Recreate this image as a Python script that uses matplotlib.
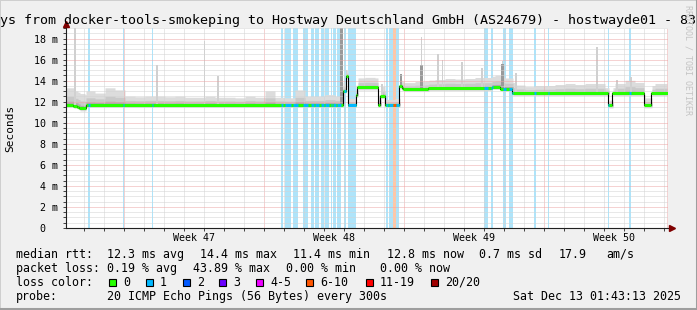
import numpy as np
import matplotlib.pyplot as plt
from matplotlib.patches import Rectangle
from matplotlib.lines import Line2D
from matplotlib.transforms import blended_transform_factory

plt.switch_backend('AGG')
plt.rcParams['font.family'] = ['DejaVu Sans Mono']

W, H, DPI = 697, 310, 100

# --- data -------------------------------------------------------------
# time in days since Monday of week 47
t_start, t_end = -2.9, 27.2
week_starts = [0, 7, 14, 21]
week_labels = ['Week 47', 'Week 48', 'Week 49', 'Week 50']

# median rtt (ms), step segments
median_edges = [-2.9, -2.535, -2.35, -2.25, -1.915, 10.925, 11.075, 11.175,
                11.585, 11.665, 12.675, 12.8, 13.025, 13.765, 13.885, 13.965,
                15.2, 18.385, 18.8, 19.4, 24.215, 24.4, 25.985, 26.35, 27.2]
median_ms = [11.72, 11.62, 11.50, 11.37, 11.72, 13.05, 14.40, 11.72,
             12.66, 13.36, 11.72, 12.57, 11.72, 13.46, 13.30, 13.21,
             13.30, 13.42, 13.25, 12.83, 11.65, 12.83, 11.66, 12.83]

# smoke spread above the median (ms), half-day bins from day -3.0
smoke_t0, smoke_step = -3.0, 0.5
smoke_spread = [1.6, 1.4, 1.3, 1.1, 1.6, 1.4, 0.8, 0.75, 0.8, 0.8,
                0.75, 0.8, 0.7, 0.7, 0.8, 0.7, 0.7, 0.65, 0.8, 0.7,
                1.3, 0.7, 0.65, 1.4, 0.8, 0.8, 0.95, 0.8, 0.6, 0.9,
                0.95, 0.9, 0.5, 0.6, 0.6, 0.7, 0.75, 0.8, 0.9, 0.85,
                0.9, 1.0, 1.0, 1.1, 1.0, 0.75, 0.6, 0.7, 0.7, 0.8,
                0.9, 0.8, 0.9, 0.9, 0.5, 0.9, 1.2, 1.0, 0.7, 0.9, 0.9]
smoke_below = 0.25

# single outlier pings (day, top ms)
light_spike_days = [-2.46, 1.64, 4.025, 4.715, 11.125, 12.885, 14.875, 15.715,
                    15.925, 16.91, 17.9, 18.925, 19.59, 23.65, 24.635, 25.35]
light_spike_tops = [19.5, 15.5, 17.8, 14.4, 15.0, 13.7, 18.1, 16.5,
                    16.0, 15.8, 15.2, 15.9, 14.7, 17.2, 14.1, 14.3]
dark_spike_days = [10.875, 13.84, 14.875, 18.925]
dark_spike_tops = [19.5, 14.6, 15.5, 15.6]

# packet loss periods (day start / end, loss class index)
loss_start = [-1.80, -0.05, 1.375, 7.85, 8.065, 8.45, 8.965, 9.35, 9.565, 9.85,
              10.035, 10.35, 10.465, 10.665, 11.015, 11.20, 13.085, 13.25,
              13.465, 13.60, 18.0, 18.335, 18.965, 19.25, 20.5, 21.2, 24.215, 25.265]
loss_end = [-1.725, 0.0, 1.465, 7.965, 8.365, 8.70, 9.185, 9.50, 9.735, 10.0,
            10.265, 10.415, 10.615, 10.85, 11.085, 11.585, 13.185, 13.465,
            13.60, 13.75, 18.2, 18.435, 19.085, 19.45, 20.6, 21.265, 24.265, 25.35]
loss_level = [1] * 18 + [5] + [1] * 9

loss_labels = ['0', '1', '2', '3', '4-5', '6-10', '11-19', '20/20']
loss_colors = ['#26ff00', '#00b8ff', '#0059ff', '#6a00ff',
               '#ee00ff', '#ff5500', '#ff0000', '#a00000']
loss_bg = {1: '#aee4fa', 5: '#ffc6a6'}

title = ('Last 30 Days from docker-tools-smokeping to Hostway Deutschland GmbH '
         '(AS24679) - hostwayde01 - 83.236.12.34')
stats_rtt = ['12.3 ms avg', '14.4 ms max', '11.4 ms min', '12.8 ms now',
             '0.7 ms sd', '17.9', 'am/s']
stats_loss = ['0.19 % avg', '43.89 % max', '0.00 % min', '0.00 % now']
probe_text = '20 ICMP Echo Pings (56 Bytes) every 300s'
stamp = 'Sat Dec 13 01:43:13 2025'


def fx(x):
    return x / W


def fy(y):
    return 1 - y / H


fig = plt.figure(figsize=(W / DPI, H / DPI), dpi=DPI, facecolor='#f0f0f0')
ax = fig.add_axes([fx(66), fy(228), (668 - 66) / W, 200 / H])
ax.set_facecolor('white')
ax.set_xlim(t_start, t_end)
ax.set_ylim(0, 19.0)

# loss background columns
for s, e, lv in zip(loss_start, loss_end, loss_level):
    ax.axvspan(s, e, color=loss_bg[lv], lw=0, zorder=0.2)

# smoke
t = np.arange(t_start, t_end, 0.05)
edges = np.asarray(median_edges)
med_arr = np.asarray(median_ms)


def med_at(x):
    i = np.clip(np.searchsorted(edges, x, side='right') - 1, 0, len(med_arr) - 1)
    return med_arr[i]


med = med_at(t)
bi = np.clip(((t - smoke_t0) // smoke_step).astype(int), 0, len(smoke_spread) - 1)
spread = np.asarray(smoke_spread)[bi]
for frac, col in [(1.0, '#dcdcdc'), (0.5, '#c9c9c9'), (0.2, '#acacac')]:
    ax.fill_between(t, med - smoke_below * frac, med + spread * frac,
                    step='post', color=col, lw=0, zorder=1)

ld = np.asarray(light_spike_days)
ax.bar(ld, np.asarray(light_spike_tops) - med_at(ld), bottom=med_at(ld),
       width=0.085, color='#d0d0d0', lw=0, zorder=1.1)
dd = np.asarray(dark_spike_days)
ax.bar(dd, np.asarray(dark_spike_tops) - med_at(dd), bottom=med_at(dd),
       width=0.11, color='#9a9a9a', lw=0, zorder=1.2)

# median line
ax.step(median_edges, median_ms + [median_ms[-1]], where='post',
        color='black', lw=0.8, zorder=3)
ax.hlines(median_ms, median_edges[:-1], median_edges[1:],
          color=loss_colors[0], lw=2.2, zorder=3.2)
for s, e, lv in zip(loss_start, loss_end, loss_level):
    for a, b, v in zip(median_edges[:-1], median_edges[1:], median_ms):
        lo, hi = max(a, s), min(b, e)
        if hi > lo:
            ax.hlines(v, lo, hi, color=loss_colors[lv], lw=2.2, zorder=3.3)

# grid
ax.set_axisbelow(False)
ax.set_xticks(week_starts)
ax.set_xticks(np.arange(-2, 28, 1), minor=True)
ax.set_xticklabels([])
ax.set_yticks(np.arange(0, 19, 2))
ax.set_yticks(np.arange(0, 19.01, 0.5), minor=True)
ax.set_yticklabels(['0  '] + ['%2d m' % v for v in range(2, 19, 2)])
ax.grid(which='major', color='#eca6a6', ls=(0, (1, 1)), lw=0.72)
ax.grid(which='minor', color='#d3d3d3', ls=(0, (1, 1)), lw=0.72)
ax.axvline(t_end - 0.04, color='#eca6a6', ls=(0, (1, 1)), lw=0.72, zorder=2.5)
ax.tick_params(which='both', length=2, width=0.7, color='#404040',
               labelsize=7.2, pad=3.5)

for sp in ['top', 'right']:
    ax.spines[sp].set_visible(False)
for sp in ['left', 'bottom']:
    ax.spines[sp].set_color('#202020')
    ax.spines[sp].set_linewidth(0.8)
    ax.spines[sp].set_zorder(4)

ax.plot([1.006], [0], marker='>', ms=4.2, color='#7f0000',
        transform=ax.transAxes, clip_on=False, zorder=5)
ax.plot([0], [1.02], marker='^', ms=4.2, color='#7f0000',
        transform=ax.transAxes, clip_on=False, zorder=5)

tr = blended_transform_factory(ax.transData, ax.transAxes)
for ws, lab in zip(week_starts, week_labels):
    ax.text(ws + 3.5, -0.065, lab, transform=tr, ha='center', va='baseline',
            fontsize=7.2)

# texts around the plot
fig.text(0.5, fy(24.3), title, ha='center', va='baseline', fontsize=9.6)
fig.text(fx(10), fy(128), 'Seconds', rotation=90, ha='center', va='center',
         fontsize=8)
fig.text(fx(688), fy(60), 'RRDTOOL / TOBI OETIKER', rotation=270,
         ha='center', va='center', fontsize=6, color='#c4c4c4')

fs = 8.4
rows_y = [257.7, 271.7, 285.7, 299.7]
fig.text(fx(16), fy(rows_y[0]), 'median rtt:', fontsize=fs, va='baseline')
for x, s in zip([107.3, 200, 292.7, 386.7, 479.3, 558.3, 606.7], stats_rtt):
    fig.text(fx(x), fy(rows_y[0]), s, fontsize=fs, va='baseline')
fig.text(fx(16), fy(rows_y[1]), 'packet loss:', fontsize=fs, va='baseline')
for x, s in zip([107.3, 192.7, 286, 380], stats_loss):
    fig.text(fx(x), fy(rows_y[1]), s, fontsize=fs, va='baseline')
fig.text(fx(16), fy(rows_y[2]), 'loss color:', fontsize=fs, va='baseline')
box_x = [109, 145.7, 182.7, 219.3, 256, 306, 365.7, 430.7]
for bx, lab, col in zip(box_x, loss_labels, loss_colors):
    fig.patches.append(Rectangle((fx(bx), fy(285.5)), 7 / W, 7 / H,
                                 transform=fig.transFigure, facecolor=col,
                                 edgecolor='black', lw=0.8))
    fig.text(fx(bx + 14.3), fy(rows_y[2]), lab, fontsize=fs, va='baseline')
fig.text(fx(16), fy(rows_y[3]), 'probe:', fontsize=fs, va='baseline')
fig.text(fx(107.3), fy(rows_y[3]), probe_text, fontsize=fs, va='baseline')
fig.text(fx(513.3), fy(rows_y[3]), stamp, fontsize=fs, va='baseline')

# frame shading
fig.lines.append(Line2D([0, 0, 1], [0, 1, 1], transform=fig.transFigure,
                        color='#cfcfcf', lw=1.4))
fig.lines.append(Line2D([0, 1, 1], [0.003, 0.003, 1], transform=fig.transFigure,
                        color='#9e9e9e', lw=2.2))

fig.savefig('out.png', dpi=DPI, facecolor=fig.get_facecolor())
plt.close(fig)
